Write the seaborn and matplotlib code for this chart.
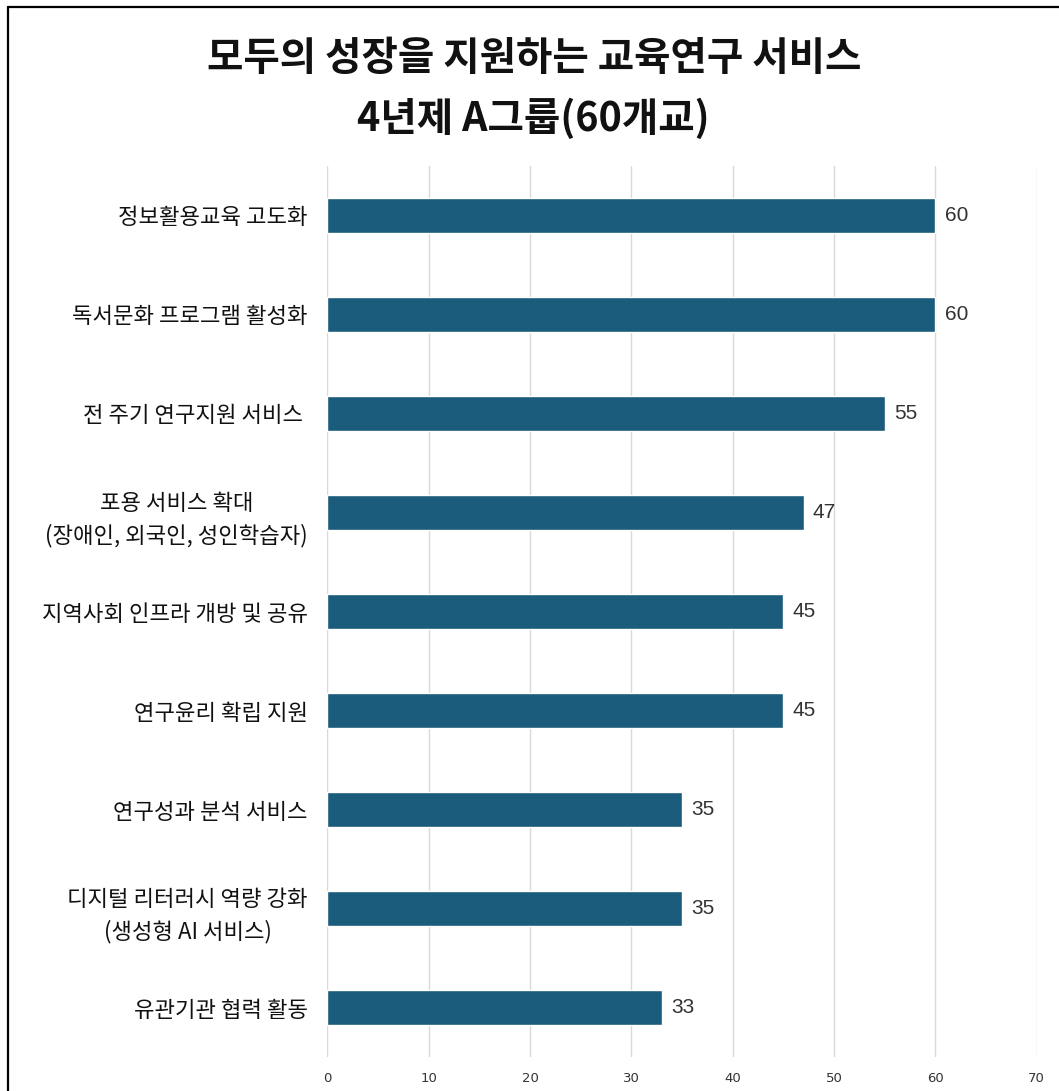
import matplotlib
matplotlib.use('Agg')
import pandas as pd
import seaborn as sns
from matplotlib import pyplot as plt
from matplotlib.lines import Line2D

categories = ['정보활용교육 고도화',
              '독서문화 프로그램 활성화',
              '전 주기 연구지원 서비스 ',
              '포용 서비스 확대\n(장애인, 외국인, 성인학습자)',
              '지역사회 인프라 개방 및 공유',
              '연구윤리 확립 지원',
              '연구성과 분석 서비스',
              '디지털 리터러시 역량 강화\n(생성형 AI 서비스)',
              '유관기관 협력 활동']
counts = [60, 60, 55, 47, 45, 45, 35, 35, 33]
xticks = [0, 10, 20, 30, 40, 50, 60, 70]

sns.set_theme(style='white')
plt.rcParams['font.family'] = ['Noto Sans CJK KR', 'DejaVu Sans']

df = pd.DataFrame({'item': categories, 'count': counts})

fig = plt.figure(figsize=(10.59, 10.91), dpi=100)
ax = fig.add_axes([0.309, 0.031, 0.670, 0.817])

sns.barplot(data=df, y='item', x='count', orient='h', color='#1b5b7c',
            width=0.36, saturation=1, ax=ax)

ax.set_xlim(0, 70)
ax.set_xticks(xticks)
ax.set_xticklabels([str(t) for t in xticks], fontsize=9.5, color='#333333',
                   family=['Liberation Sans Narrow', 'DejaVu Sans'])
ax.tick_params(axis='x', length=0, pad=11)
ax.tick_params(axis='y', length=0, pad=14)
for lab in ax.get_yticklabels():
    lab.set_fontsize(16)
    lab.set_color('#111111')
    lab.set_multialignment('center')
    lab.set_linespacing(1.5)
ax.set_xlabel('')
ax.set_ylabel('')
ax.grid(axis='x', color='#d9d9d9', linewidth=1)
ax.set_axisbelow(True)
for s in ax.spines.values():
    s.set_visible(False)

for i, v in enumerate(counts):
    ax.text(v + 0.9, i, str(v), va='center', ha='left', fontsize=15,
            color='#333333', family=['Liberation Sans', 'DejaVu Sans'])

fig.text(0.504, 0.946, '모두의 성장을 지원하는 교육연구 서비스', ha='center', va='center',
         fontsize=28.5, fontweight='bold', color='#111111')
fig.text(0.504, 0.891, '4년제 A그룹(60개교)', ha='center', va='center',
         fontsize=28.5, fontweight='bold', color='#111111')

# outer frame (left and top only, rest cut off)
fig.add_artist(Line2D([8 / 1059, 8 / 1059], [0, 1 - 7 / 1091], color='black', lw=1.6,
                      transform=fig.transFigure))
fig.add_artist(Line2D([8 / 1059, 1], [1 - 7 / 1091, 1 - 7 / 1091], color='black', lw=1.6,
                      transform=fig.transFigure))

fig.savefig('out.png', dpi=100)
plt.close()
